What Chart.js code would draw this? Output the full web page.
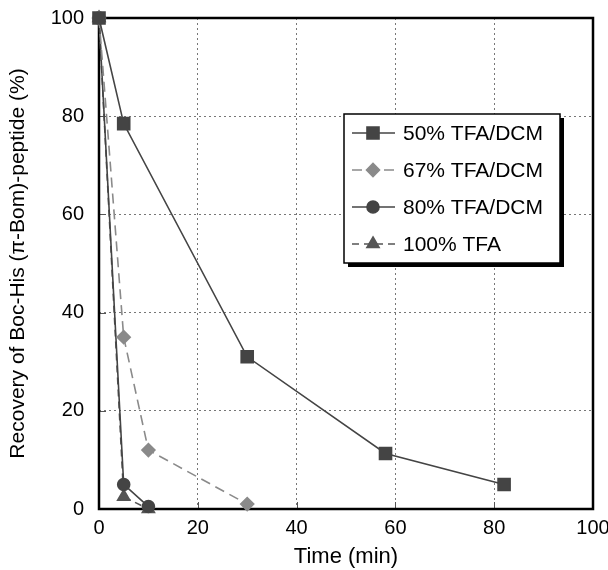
<!DOCTYPE html>
<html>
<head>
<meta charset="utf-8">
<script src="https://cdn.jsdelivr.net/npm/chart.js@4.4.1/dist/chart.umd.min.js"></script>
<style>
  html, body { margin: 0; padding: 0; background: #fff; }
  #wrap { width: 608px; height: 570px; }
</style>
</head>
<body>
<div id="wrap"><canvas id="recovery" width="608" height="570"></canvas></div>
<script>
// data
const seriesLabels = ['50% TFA/DCM', '67% TFA/DCM', '80% TFA/DCM', '100% TFA'];
const time50 = [0, 5, 30, 58, 82];
const rec50 = [100, 78.5, 31, 11.3, 5];
const time67 = [0, 5, 10, 30];
const rec67 = [100, 35, 12, 1];
const time80 = [0, 5, 10];
const rec80 = [100, 5, 0.5];
const time100 = [0, 5, 10];
const rec100 = [100, 2.5, 0];
const xTicks = [0, 20, 40, 60, 80, 100];
const yTicks = [0, 20, 40, 60, 80, 100];

const FONT = '"Liberation Sans", Arial, Helvetica, sans-serif';

const toPoints = (xs, ys) => xs.map((x, i) => ({ x: x, y: ys[i] }));

// keep tick labels from pushing the plot area in
const noLabelPadding = scale => {
    scale.paddingLeft = 0;
    scale.paddingRight = 0;
    scale.paddingTop = 0;
    scale.paddingBottom = 0;
};

// frame round the plot + short inward ticks
const framePlugin = {
    id: 'frame',
    beforeDatasetsDraw(chart) {
        const { ctx, chartArea: a, scales } = chart;
        ctx.save();
        ctx.strokeStyle = '#555';
        ctx.lineWidth = 1;
        ctx.setLineDash([]);
        xTicks.forEach(t => {
            const px = Math.round(scales.x.getPixelForValue(t)) + 0.5;
            ctx.beginPath();
            ctx.moveTo(px, a.bottom);
            ctx.lineTo(px, a.bottom - 7);
            ctx.stroke();
        });
        yTicks.forEach(t => {
            const py = Math.round(scales.y.getPixelForValue(t)) + 0.5;
            ctx.beginPath();
            ctx.moveTo(a.left, py);
            ctx.lineTo(a.left + 7, py);
            ctx.stroke();
        });
        ctx.strokeStyle = '#000';
        ctx.lineWidth = 2.5;
        ctx.strokeRect(a.left, a.top, a.right - a.left, a.bottom - a.top);
        ctx.restore();
    }
};

// legend box with shadow, line sample and marker
const legendPlugin = {
    id: 'boxLegend',
    afterDraw(chart) {
        const ctx = chart.ctx;
        const bx = 344, by = 114, bw = 216, bh = 149;
        ctx.save();
        ctx.fillStyle = '#000';
        ctx.fillRect(bx + 4, by + 4, bw, bh);
        ctx.fillStyle = '#fff';
        ctx.fillRect(bx, by, bw, bh);
        ctx.strokeStyle = '#000';
        ctx.lineWidth = 1.5;
        ctx.strokeRect(bx, by, bw, bh);

        const rows = [133, 170, 207, 244];
        chart.data.datasets.forEach((ds, i) => {
            const y = rows[i];
            ctx.save();
            ctx.strokeStyle = ds.borderColor;
            ctx.lineWidth = ds.borderWidth;
            ctx.setLineDash(ds.borderDash || []);
            ctx.beginPath();
            ctx.moveTo(352, y);
            ctx.lineTo(395, y);
            ctx.stroke();
            ctx.setLineDash([]);
            ctx.fillStyle = ds.pointBackgroundColor;
            ctx.strokeStyle = ds.pointBorderColor;
            Chart.helpers.drawPoint(ctx, {
                pointStyle: ds.pointStyle,
                radius: ds.pointRadius,
                rotation: 0,
                borderWidth: 1
            }, 373, y);
            ctx.restore();
            ctx.fillStyle = '#000';
            ctx.font = '21px ' + FONT;
            ctx.textBaseline = 'middle';
            ctx.textAlign = 'left';
            ctx.fillText(seriesLabels[i], 403, y + 1);
        });
        ctx.restore();
    }
};

const ctx = document.getElementById('recovery').getContext('2d');
const chart = new Chart(ctx, {
    type: 'scatter',
    data: {
        datasets: [
            {
                label: seriesLabels[0],
                data: toPoints(time50, rec50),
                showLine: true,
                borderColor: '#444',
                borderWidth: 1.6,
                pointStyle: 'rect',
                pointRadius: 8.5,
                pointBackgroundColor: '#444',
                pointBorderColor: '#444',
                clip: false
            }, {
                label: seriesLabels[1],
                data: toPoints(time67, rec67),
                showLine: true,
                borderColor: '#8a8a8a',
                borderWidth: 1.6,
                borderDash: [10, 6],
                pointStyle: 'rectRot',
                pointRadius: 6.5,
                pointBackgroundColor: '#8a8a8a',
                pointBorderColor: '#8a8a8a',
                clip: false
            }, {
                label: seriesLabels[2],
                data: toPoints(time80, rec80),
                showLine: true,
                borderColor: '#444',
                borderWidth: 1.6,
                pointStyle: 'circle',
                pointRadius: 6,
                pointBackgroundColor: '#444',
                pointBorderColor: '#444',
                clip: false
            }, {
                label: seriesLabels[3],
                data: toPoints(time100, rec100),
                showLine: true,
                borderColor: '#555',
                borderWidth: 1.6,
                borderDash: [7, 5],
                pointStyle: 'triangle',
                pointRadius: 7,
                pointBackgroundColor: '#555',
                pointBorderColor: '#555',
                clip: false
            }
        ]
    },
    options: {
        responsive: false,
        animation: false,
        layout: {
            padding: { top: 18, right: 15, left: 0, bottom: 0 }
        },
        plugins: {
            legend: { display: false },
            tooltip: { enabled: false }
        },
        scales: {
            x: {
                type: 'linear',
                min: 0,
                max: 100,
                afterBuildTicks: scale => { scale.ticks = xTicks.map(v => ({ value: v })); },
                afterFit: scale => { scale.height = 61; noLabelPadding(scale); },
                grid: { color: '#777', lineWidth: 1, drawTicks: false },
                border: { display: false, dash: [2, 3] },
                ticks: {
                    padding: 7,
                    color: '#000',
                    font: { family: FONT, size: 20 },
                    maxRotation: 0
                },
                title: {
                    display: true,
                    text: 'Time (min)',
                    color: '#000',
                    font: { family: FONT, size: 22, lineHeight: 1 },
                    padding: { top: 0, bottom: 2 }
                }
            },
            y: {
                type: 'linear',
                min: 0,
                max: 100,
                afterBuildTicks: scale => { scale.ticks = yTicks.map(v => ({ value: v })); },
                afterFit: scale => { scale.width = 99; noLabelPadding(scale); },
                grid: { color: '#777', lineWidth: 1, drawTicks: false },
                border: { display: false, dash: [2, 3] },
                ticks: {
                    padding: 15,
                    color: '#000',
                    font: { family: FONT, size: 20 }
                },
                title: {
                    display: true,
                    text: 'Recovery of Boc-His (\u03c0-Bom)-peptide (%)',
                    color: '#000',
                    font: { family: FONT, size: 21, lineHeight: 1 },
                    padding: { top: 8, bottom: 0 }
                }
            }
        }
    },
    plugins: [framePlugin, legendPlugin]
});
</script>
</body>
</html>
